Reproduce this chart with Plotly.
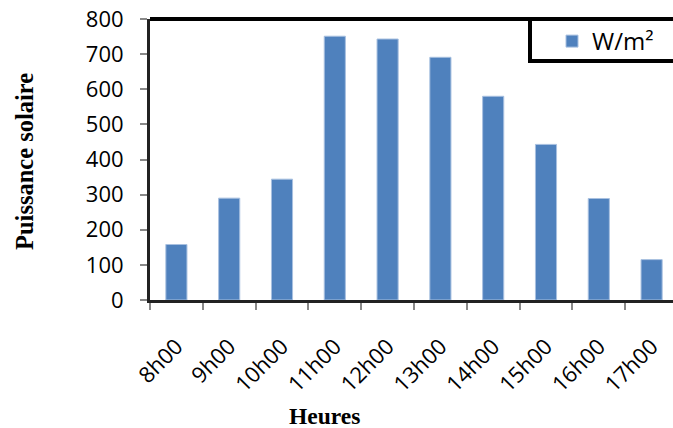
import plotly.graph_objects as go

hours = ["8h00", "9h00", "10h00", "11h00", "12h00", "13h00", "14h00", "15h00", "16h00", "17h00"]
power = [158, 290, 344, 751, 743, 691, 580, 443, 289, 115]
series_name = "W/m²"
y_ticks = [0, 100, 200, 300, 400, 500, 600, 700, 800]

W, H = 673, 428
L, R, T, B = 150, 0, 19, 128
pw = W - L - R
ph = H - T - B
cat_px = 52.8

tick_font = dict(family="Open Sans, Liberation Sans, sans-serif", size=22, color="#000000")
legend_font = dict(family="Open Sans, Liberation Sans, sans-serif", size=24, color="#000000")
ytitle_font = dict(family="Liberation Serif, Times New Roman, serif", size=24.5, color="#000000")
xtitle_font = dict(family="Liberation Serif, Times New Roman, serif", size=23.5, color="#000000")

fig = go.Figure()
fig.add_trace(go.Bar(
    x=hours, y=power, name=series_name,
    marker=dict(color="#4F81BD", line=dict(color="#A8C0E0", width=1)),
    showlegend=True,
))

fig.update_layout(
    width=W, height=H,
    margin=dict(l=L, r=R, t=T, b=B, pad=0, autoexpand=False),
    paper_bgcolor="white", plot_bgcolor="white",
    bargap=0.6,
    showlegend=True,
    legend=dict(
        x=(552 - L) / pw, y=1, xanchor="left", yanchor="top",
        borderwidth=0, bgcolor="rgba(0,0,0,0)",
        font=legend_font,
    ),
    xaxis=dict(
        type="category",
        range=[-0.5, -0.5 + pw / cat_px],
        showline=True, linecolor="#222222", linewidth=3,
        ticks="outside", tickson="boundaries", ticklen=7, tickwidth=2, tickcolor="#888888",
        tickangle=-45, tickfont=tick_font,
        showgrid=False, zeroline=False,
        ticklabelstandoff=22,
    ),
    yaxis=dict(
        range=[0, 800], tickvals=y_ticks,
        showline=True, linecolor="#222222", linewidth=3,
        ticks="outside", ticklen=7, tickwidth=2, tickcolor="#888888",
        tickfont=tick_font, ticklabelstandoff=12,
        showgrid=False, zeroline=False,
    ),
    shapes=[
        dict(type="line", xref="paper", yref="paper", x0=0, x1=1.02, y0=1, y1=1,
             line=dict(color="#000000", width=4)),
        dict(type="rect", xref="paper", yref="paper", layer="above",
             x0=(530 - L) / pw, x1=1.05, y0=(300 - 61) / ph, y1=1,
             fillcolor="white", line=dict(color="#000000", width=4)),
    ],
    annotations=[
        dict(text="<b>Puissance solaire</b>", xref="paper", yref="paper",
             x=(24 - L) / pw, y=(300 - 162) / ph, textangle=-90,
             xanchor="center", yanchor="middle", showarrow=False, font=ytitle_font),
        dict(text="<b>Heures</b>", xref="paper", yref="paper",
             x=(324 - L) / pw, y=(300 - 416) / ph,
             xanchor="center", yanchor="middle", showarrow=False, font=xtitle_font),
    ],
)

fig.write_html("out.html")
